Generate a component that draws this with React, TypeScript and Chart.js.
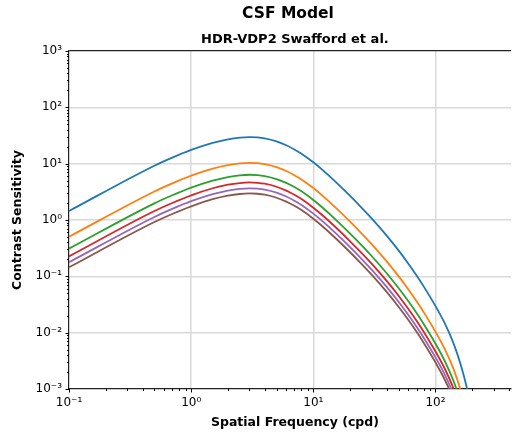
import React, { useEffect, useRef } from "react";
import { Chart, registerables } from "chart.js";

Chart.register(...registerables);

// Spatial frequency samples (cpd)
const frequencies = [0.1, 0.5, 0.7, 1, 1.5, 2, 2.5, 3, 3.5, 4, 5, 6, 7, 8, 10, 12, 15, 20, 25, 30, 40, 50, 60, 70, 80, 100, 120, 140, 160, 180, 200];

// Contrast sensitivity for each luminance level
const seriesBlue = [1.445, 9.204, 12.78, 17.52, 23.37, 26.98, 28.92, 29.59, 29.22, 28.11, 24.84, 21.24, 17.89, 15.01, 10.56, 7.6, 4.895, 2.675, 1.631, 1.069, 0.5231, 0.2855, 0.1677, 0.1035, 0.0663, 0.02958, 0.01416, 0.006597, 0.002806, 0.001084, 0.00038];
const seriesOrange = [0.5045, 3.213, 4.462, 6.117, 8.159, 9.42, 10.097, 10.331, 10.202, 9.814, 8.673, 7.416, 6.246, 5.241, 3.687, 2.653, 1.709, 0.934, 0.5695, 0.3732, 0.1826, 0.09968, 0.05855, 0.03614, 0.02315, 0.01033, 0.004944, 0.002303, 0.00098, 0.000378, 0.000133];
const seriesGreen = [0.3104, 1.977, 2.745, 3.763, 5.019, 5.795, 6.212, 6.355, 6.276, 6.037, 5.335, 4.562, 3.842, 3.224, 2.268, 1.632, 1.051, 0.5745, 0.3503, 0.2296, 0.1124, 0.06132, 0.03602, 0.02223, 0.01424, 0.006353, 0.003041, 0.001417, 0.000603, 0.000233, 0.0000816];
const seriesRed = [0.2264, 1.442, 2.002, 2.745, 3.662, 4.227, 4.531, 4.636, 4.578, 4.404, 3.892, 3.328, 2.803, 2.352, 1.655, 1.191, 0.767, 0.4191, 0.2555, 0.1675, 0.08196, 0.04473, 0.02628, 0.01622, 0.01039, 0.004635, 0.002219, 0.001034, 0.00044, 0.00017, 0.0000595];
const seriesPurple = [0.1778, 1.132, 1.572, 2.155, 2.875, 3.319, 3.558, 3.64, 3.595, 3.458, 3.056, 2.613, 2.201, 1.847, 1.299, 0.935, 0.6022, 0.3291, 0.2007, 0.1315, 0.06436, 0.03513, 0.02063, 0.01273, 0.008157, 0.003639, 0.001742, 0.000812, 0.000345, 0.000133, 0.0000468];
const seriesBrown = [0.1445, 0.9204, 1.278, 1.752, 2.337, 2.698, 2.892, 2.959, 2.922, 2.811, 2.484, 2.124, 1.789, 1.501, 1.056, 0.76, 0.4895, 0.2675, 0.1631, 0.1069, 0.05231, 0.02855, 0.01677, 0.01035, 0.00663, 0.002958, 0.001416, 0.00066, 0.000281, 0.000108, 0.000038];

const allSeries = [seriesBlue, seriesOrange, seriesGreen, seriesRed, seriesPurple, seriesBrown];
const seriesColors = ["#1f77b4", "#ff7f0e", "#2ca02c", "#d62728", "#9467bd", "#8c564b"];

// Decade tick labels
const tickExponents = [-3, -2, -1, 0, 1, 2, 3];
const tickLabels = ["10⁻³", "10⁻²", "10⁻¹", "10⁰", "10¹", "10²", "10³"];

const TITLE = "CSF Model";
const SUBTITLE = "HDR-VDP2 Swafford et al.";
const X_TITLE = "Spatial Frequency (cpd)";
const Y_TITLE = "Contrast Sensitivity";

const X_MIN = 0.1;
const X_MAX = 415; // visible part of the axis
const X_AXES_LIMIT = 500; // the full (cropped) axes extent, used to centre the axes texts
const Y_MIN = 0.001;
const Y_MAX = 1000;

const FONT = "'DejaVu Sans', sans-serif";

function decadeLabel(v: number): string {
  const e = Math.round(Math.log10(v));
  const p = Math.pow(10, e);
  if (Math.abs(v - p) / p < 1e-6) {
    const i = tickExponents.indexOf(e);
    if (i >= 0) return tickLabels[i];
  }
  return "";
}

function isDecade(v: number): boolean {
  return decadeLabel(v) !== "";
}

const mplDecor = {
  id: "mplDecor",
  afterDraw(chart: any) {
    const { ctx, chartArea } = chart;
    const x = chart.scales.x;
    const y = chart.scales.y;
    ctx.save();
    ctx.strokeStyle = "#000";
    ctx.lineWidth = 1;
    for (let d = -4; d <= 4; d++) {
      for (let k = 1; k <= 9; k++) {
        const v = k * Math.pow(10, d);
        const len = k === 1 ? 3.5 : 2;
        if (v >= X_MIN * 0.999 && v <= X_MAX) {
          const px = Math.round(x.getPixelForValue(v)) + 0.5;
          ctx.beginPath();
          ctx.moveTo(px, chartArea.bottom);
          ctx.lineTo(px, chartArea.bottom + len);
          ctx.stroke();
        }
        if (v >= Y_MIN * 0.999 && v <= Y_MAX * 1.001) {
          const py = Math.round(y.getPixelForValue(v)) + 0.5;
          ctx.beginPath();
          ctx.moveTo(chartArea.left, py);
          ctx.lineTo(chartArea.left - len, py);
          ctx.stroke();
        }
      }
    }
    // Titles: figure title centred on the (wider) figure, axes texts centred on the full axes
    const axesCenter = (chartArea.left + x.getPixelForValue(X_AXES_LIMIT)) / 2;
    ctx.fillStyle = "#000";
    ctx.textAlign = "center";
    ctx.textBaseline = "middle";
    ctx.font = `bold 15.5px ${FONT}`;
    ctx.fillText(TITLE, 288, 14);
    ctx.font = `bold 13px ${FONT}`;
    ctx.fillText(SUBTITLE, axesCenter, 39.5);
    ctx.font = `bold 12.5px ${FONT}`;
    ctx.fillText(X_TITLE, axesCenter, 423);
    ctx.restore();
  },
};

export default function App() {
  const canvasRef = useRef<HTMLCanvasElement | null>(null);

  useEffect(() => {
    if (!canvasRef.current) return;
    const datasets = allSeries.map((s, i) => ({
      label: `L${i + 1}`,
      data: frequencies.map((f, j) => ({ x: f, y: s[j] })),
      borderColor: seriesColors[i],
      backgroundColor: seriesColors[i],
      borderWidth: 1.8,
      pointRadius: 0,
      fill: false,
      cubicInterpolationMode: "monotone" as const,
      borderJoinStyle: "round" as const,
    }));

    const chart = new Chart(canvasRef.current, {
      type: "line",
      data: { datasets },
      plugins: [mplDecor],
      options: {
        animation: false,
        responsive: true,
        maintainAspectRatio: false,
        layout: { padding: { left: 0, right: -3, top: 51, bottom: 0 } },
        plugins: {
          legend: { display: false },
          tooltip: { enabled: false },
          title: { display: false },
          subtitle: { display: false },
        },
        scales: {
          x: {
            type: "logarithmic",
            min: X_MIN,
            max: X_MAX,
            afterFit: (scale: any) => {
              scale.height = 45;
            },
            border: { display: true, color: "#222", width: 1.2 },
            grid: {
              color: (c: any) =>
                c.tick && isDecade(c.tick.value) && c.tick.value > X_MIN * 1.001 ? "#d9d9d9" : "rgba(0,0,0,0)",
              lineWidth: 1.5,
              tickColor: "rgba(0,0,0,0)",
              tickLength: 4,
            },
            ticks: {
              autoSkip: false,
              maxRotation: 0,
              color: "#000",
              font: { family: FONT, size: 12 },
              padding: 3,
              callback: (v: any) => decadeLabel(Number(v)),
            },
            title: { display: false },
          },
          y: {
            type: "logarithmic",
            min: Y_MIN,
            max: Y_MAX,
            afterFit: (scale: any) => {
              scale.width = 69;
            },
            border: { display: true, color: "#222", width: 1.2 },
            grid: {
              color: (c: any) => {
                if (!c.tick) return "rgba(0,0,0,0)";
                const v = c.tick.value;
                if (Math.abs(v - Y_MAX) / Y_MAX < 1e-6) return "#222";
                return isDecade(v) && v > Y_MIN * 1.001 ? "#d9d9d9" : "rgba(0,0,0,0)";
              },
              lineWidth: (c: any) => (c.tick && Math.abs(c.tick.value - Y_MAX) / Y_MAX < 1e-6 ? 1.2 : 1.5),
              tickColor: "rgba(0,0,0,0)",
              tickLength: 4,
            },
            ticks: {
              autoSkip: false,
              color: "#000",
              font: { family: FONT, size: 12 },
              padding: 3,
              callback: (v: any) => decadeLabel(Number(v)),
            },
            title: {
              display: true,
              text: Y_TITLE,
              color: "#000",
              font: { family: FONT, size: 12.5, weight: "bold" },
              padding: { top: 10.5, bottom: 0 },
            },
          },
        },
      },
    });
    return () => chart.destroy();
  }, []);

  return (
    <div style={{ position: "fixed", left: 0, top: 0, width: 514, height: 434 }}>
      <canvas ref={canvasRef} />
    </div>
  );
}
